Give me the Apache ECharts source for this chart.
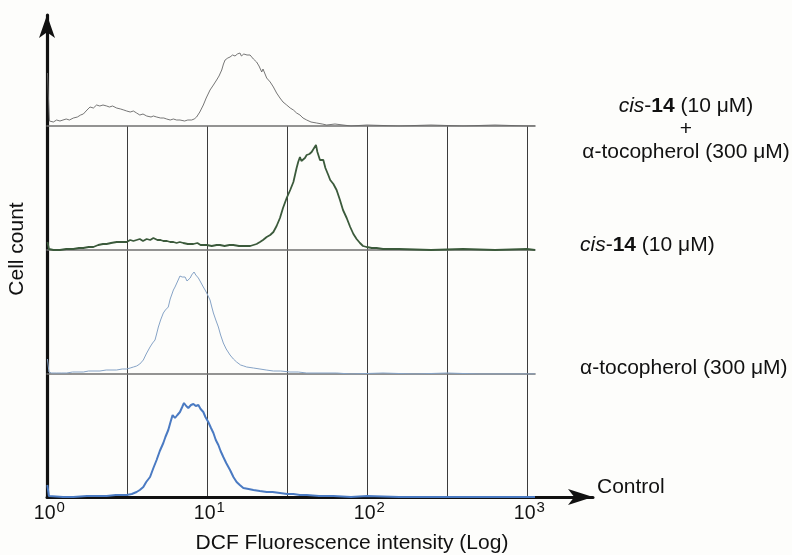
<!DOCTYPE html>
<html>
<head>
<meta charset="utf-8">
<script src="https://cdn.jsdelivr.net/npm/echarts@6/dist/echarts.min.js"></script>
<style>
html,body{margin:0;padding:0;background:#fdfdfb;}
#chart{width:792px;height:555px;}
</style>
</head>
<body>
<div id="chart"></div>
<script>
// x values are log10 of DCF fluorescence intensity (decades), y values are cell counts
const decadeTicks = [0, 1, 2, 3];
const tickExponents = ['0', '1', '2', '3'];
const labelTop = ['cis', '14', '(10 μM)', '+', 'α-tocopherol (300 μM)'];
const labelCis = ['cis', '14', '(10 μM)'];
const labelToco = 'α-tocopherol (300 μM)';
const labelControl = 'Control';
const axisTitleX = 'DCF Fluorescence intensity (Log)';
const axisTitleY = 'Cell count';

const cisTocoData = [[0.003,53],[0.015,5],[0.04,4],[0.06,6],[0.081,5],[0.1,6],[0.12,7],[0.14,6],[0.165,8],[0.19,9],[0.21,11],[0.227,12],[0.25,16],[0.269,19],[0.29,18],[0.31,21],[0.33,20],[0.35,21],[0.373,20],[0.39,19],[0.41,20],[0.435,18],[0.46,17],[0.48,16],[0.498,15],[0.52,14],[0.54,15],[0.56,13],[0.58,11],[0.60,12],[0.623,10],[0.65,9],[0.665,10],[0.685,9],[0.71,8],[0.73,8],[0.748,7],[0.77,6],[0.79,7],[0.81,6],[0.831,6],[0.86,5],[0.88,6],[0.904,6],[0.92,7],[0.935,9],[0.955,14],[0.977,21],[0.995,28],[1.019,36],[1.04,41],[1.06,46],[1.075,50],[1.092,56],[1.103,62],[1.113,66],[1.13,68],[1.144,69],[1.16,71],[1.175,70],[1.19,72],[1.206,73],[1.215,70],[1.23,72],[1.25,71],[1.269,71],[1.29,67],[1.31,64],[1.325,60],[1.342,54],[1.35,57],[1.373,48],[1.395,44],[1.415,39],[1.435,33],[1.456,28],[1.475,24],[1.498,21],[1.52,18],[1.54,16],[1.56,13],[1.581,11],[1.60,8],[1.623,6],[1.65,4],[1.685,3],[1.72,2],[1.748,1],[1.8,2],[1.85,1],[1.9,0],[2.0,1],[2.2,0],[2.4,1],[2.6,0],[2.8,1],[3.0,0],[3.05,0]];

const cisData = [[0.003,8],[0.012,1],[0.04,0],[0.081,0],[0.12,1],[0.165,1],[0.2,2],[0.227,2],[0.26,3],[0.29,3],[0.32,5],[0.35,6],[0.373,6],[0.40,7],[0.435,8],[0.46,8],[0.498,8],[0.52,10],[0.54,9],[0.56,10],[0.58,11],[0.60,9],[0.623,11],[0.645,10],[0.665,12],[0.69,10],[0.71,10],[0.727,9],[0.75,9],[0.77,8],[0.79,8],[0.81,7],[0.83,8],[0.852,7],[0.88,6],[0.915,6],[0.94,7],[0.96,5],[0.998,5],[1.03,4],[1.06,5],[1.081,5],[1.11,4],[1.14,5],[1.165,5],[1.2,4],[1.248,4],[1.27,4],[1.29,5],[1.31,6],[1.331,8],[1.35,10],[1.373,13],[1.395,15],[1.415,18],[1.435,24],[1.456,32],[1.475,42],[1.498,52],[1.52,60],[1.54,68],[1.55,75],[1.56,82],[1.57,88],[1.581,93],[1.59,89],[1.602,87],[1.612,92],[1.623,95],[1.64,96],[1.654,98],[1.665,100],[1.681,105],[1.69,98],[1.706,90],[1.716,92],[1.727,90],[1.74,82],[1.758,75],[1.77,70],[1.79,66],[1.81,60],[1.831,50],[1.85,40],[1.873,32],[1.895,23],[1.915,16],[1.935,11],[1.956,7],[1.975,4],[1.998,3],[2.03,2],[2.06,2],[2.1,1],[2.2,1],[2.4,0],[2.6,1],[2.8,0],[3.0,1],[3.05,0]];

const tocoData = [[0.003,15],[0.012,2],[0.029,1],[0.06,1],[0.09,1],[0.123,1],[0.16,2],[0.2,2],[0.227,2],[0.26,3],[0.3,3],[0.331,3],[0.37,4],[0.4,4],[0.435,4],[0.47,5],[0.498,5],[0.52,6],[0.54,7],[0.56,8],[0.58,10],[0.602,14],[0.62,20],[0.644,27],[0.66,31],[0.675,34],[0.685,40],[0.696,47],[0.71,54],[0.727,61],[0.74,64],[0.758,67],[0.77,75],[0.79,84],[0.80,87],[0.81,89],[0.82,94],[0.831,98],[0.845,97],[0.863,97],[0.875,93],[0.883,91],[0.895,96],[0.904,99],[0.919,102],[0.93,99],[0.946,96],[0.96,92],[0.977,87],[0.988,84],[0.998,81],[1.008,79],[1.019,74],[1.03,67],[1.04,61],[1.055,54],[1.071,47],[1.085,39],[1.102,31],[1.12,25],[1.144,19],[1.165,15],[1.185,12],[1.21,9],[1.23,8],[1.248,7],[1.29,6],[1.331,5],[1.37,4],[1.415,3],[1.46,3],[1.519,2],[1.57,2],[1.623,1],[1.7,1],[1.81,1],[1.9,0],[2.1,1],[2.3,0],[2.5,1],[2.7,0],[2.9,0],[3.05,0]];

const controlData = [[0.002,12],[0.012,1],[0.019,0],[0.1,0],[0.165,0],[0.25,1],[0.3,1],[0.373,1],[0.43,2],[0.498,2],[0.53,3],[0.56,5],[0.58,7],[0.602,10],[0.62,15],[0.644,20],[0.665,29],[0.685,37],[0.705,46],[0.727,54],[0.74,60],[0.758,67],[0.772,75],[0.785,82],[0.8,79],[0.815,82],[0.831,85],[0.845,90],[0.856,94],[0.87,91],[0.883,89],[0.9,92],[0.915,93],[0.93,91],[0.946,92],[0.96,88],[0.977,85],[0.99,80],[1.008,75],[1.025,69],[1.04,64],[1.055,57],[1.071,52],[1.085,46],[1.102,40],[1.12,34],[1.144,27],[1.165,20],[1.185,15],[1.205,12],[1.227,9],[1.26,8],[1.29,7],[1.33,6],[1.373,5],[1.41,5],[1.456,4],[1.5,3],[1.54,3],[1.58,2],[1.623,2],[1.7,1],[1.79,1],[1.9,0],[2.0,1],[2.2,0],[2.5,0],[2.8,0],[3.05,0]];

const FONT = 'Arial, "Liberation Sans", Helvetica, sans-serif';
const PX_PER_DECADE = 160;
const LEFT = 47;
const PANEL_W = 488;
const xMaxPanel = PANEL_W / PX_PER_DECADE;

// panels: bottom to top
const panels = [
  {top: 374, height: 123, grid: true, baseline: false},
  {top: 250, height: 124, grid: true, baseline: true},
  {top: 126, height: 124, grid: true, baseline: true},
  {top: 15, height: 111, grid: false, baseline: true}
];

const grids = [], xAxes = [], yAxes = [];
panels.forEach(function (p, i) {
  grids.push({left: LEFT, top: p.top, width: PANEL_W, height: p.height, containLabel: false});
  xAxes.push({
    type: 'value', gridIndex: i, min: 0, max: xMaxPanel, interval: 0.5,
    axisLine: {show: p.baseline, lineStyle: {color: '#707070', width: 1.6}},
    axisTick: {show: false}, axisLabel: {show: false},
    splitLine: {show: p.grid, showMinLine: false, showMaxLine: false, lineStyle: {color: '#3c3c3c', width: 1}}
  });
  yAxes.push({
    type: 'value', gridIndex: i, min: 0, max: p.height,
    axisLine: {show: false}, axisTick: {show: false}, axisLabel: {show: false}, splitLine: {show: false}
  });
});

// frame grid for the black arrowed axes
const FRAME_W = 546;
const FRAME_AXIS = 4;
grids.push({left: LEFT, top: 15, width: FRAME_W, height: 482});
xAxes.push({
  type: 'value', gridIndex: FRAME_AXIS, min: 0, max: FRAME_W / PX_PER_DECADE, interval: 1,
  axisLine: {show: true, symbol: ['none', 'arrow'], symbolSize: [12, 25], lineStyle: {color: '#111', width: 3}},
  axisTick: {show: false}, splitLine: {show: false}, axisLabel: {show: false}
});
yAxes.push({
  type: 'value', gridIndex: FRAME_AXIS, min: 0, max: 1,
  axisLine: {show: true, symbol: ['none', 'arrow'], symbolSize: [12, 23], lineStyle: {color: '#111', width: 3.2}},
  axisTick: {show: false}, axisLabel: {show: false}, splitLine: {show: false}
});

function trace(data, idx, color, width) {
  return {
    type: 'line', xAxisIndex: idx, yAxisIndex: idx, data: data,
    showSymbol: false, symbol: 'none', smooth: false, z: 3,
    lineStyle: {color: color, width: width}, silent: true
  };
}

const FS = 21;
const textBase = {fontFamily: FONT, fontSize: FS, fill: '#111'};
const richIB = {i: {fontStyle: 'italic', fontFamily: FONT, fontSize: FS}, b: {fontWeight: 'bold', fontFamily: FONT, fontSize: FS}};
const baseGraphic = [
  {type: 'text', x: 686, y: 129, style: Object.assign({}, textBase, {
    text: '{i|' + labelTop[0] + '}-{b|' + labelTop[1] + '} ' + labelTop[2] + '\n' + labelTop[3] + '\n' + labelTop[4],
    align: 'center', verticalAlign: 'middle', lineHeight: 23, rich: richIB
  })},
  {type: 'text', x: 580, y: 245, style: Object.assign({}, textBase, {
    text: '{i|' + labelCis[0] + '}-{b|' + labelCis[1] + '} ' + labelCis[2],
    align: 'left', verticalAlign: 'middle', rich: richIB
  })},
  {type: 'text', x: 580, y: 368, style: Object.assign({}, textBase, {text: labelToco, align: 'left', verticalAlign: 'middle'})},
  {type: 'text', x: 597, y: 487, style: Object.assign({}, textBase, {text: labelControl, align: 'left', verticalAlign: 'middle'})},
  {type: 'text', x: 352, y: 543, style: Object.assign({}, textBase, {text: axisTitleX, align: 'center', verticalAlign: 'middle'})},
  {type: 'text', x: 17, y: 249, rotation: Math.PI / 2, style: Object.assign({}, textBase, {text: axisTitleY, align: 'center', verticalAlign: 'middle'})}
];

const option = {
  backgroundColor: '#fdfdfb',
  animation: false,
  grid: grids, xAxis: xAxes, yAxis: yAxes,
  series: [
    trace(controlData, 0, '#4a7ac2', 2),
    trace(tocoData, 1, '#86a3c6', 1),
    trace(cisData, 2, '#3b5a3b', 1.8),
    trace(cisTocoData, 3, '#666666', 0.9)
  ],
  graphic: baseGraphic
};

const chart = echarts.init(document.getElementById('chart'), null, {renderer: 'canvas'});
chart.setOption(option);

// decade tick labels (10^n) placed through the frame x-axis scale
const tickGraphic = [];
decadeTicks.forEach(function (v, i) {
  const px = chart.convertToPixel({xAxisIndex: FRAME_AXIS}, v);
  tickGraphic.push({type: 'text', x: px + 8.5, y: 514, style: {text: '10', fontFamily: FONT, fontSize: 19.5, fill: '#111', align: 'right', verticalAlign: 'middle'}});
  tickGraphic.push({type: 'text', x: px + 9.5, y: 508, style: {text: tickExponents[i], fontFamily: FONT, fontSize: 15, fill: '#111', align: 'left', verticalAlign: 'middle'}});
});
chart.setOption({graphic: baseGraphic.concat(tickGraphic)});
</script>
</body>
</html>
